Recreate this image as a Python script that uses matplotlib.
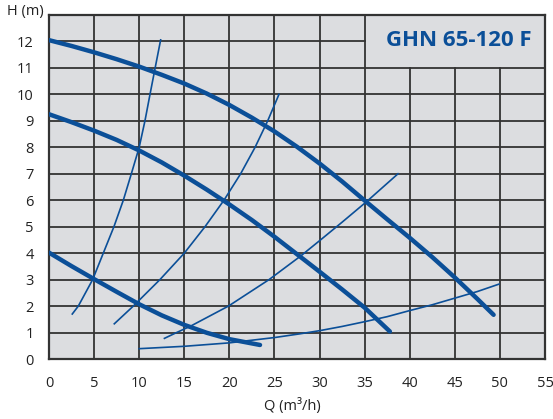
import matplotlib
matplotlib.use("Agg")
import matplotlib.pyplot as plt

# pump curves (thick), H in m vs Q in m3/h
q_top = [0, 2.5, 5, 7.5, 10, 12.5, 15, 17.5, 20, 22.5, 25, 27.5, 30, 32.5, 35, 37.5, 40, 42.5, 45, 47.5, 49.3]
h_top = [12.05, 11.83, 11.59, 11.33, 11.05, 10.74, 10.41, 10.03, 9.6, 9.12, 8.6, 8.02, 7.39, 6.71, 5.99, 5.28, 4.58, 3.85, 3.08, 2.27, 1.67]
q_mid = [0, 2.5, 5, 7.5, 10, 12.5, 15, 17.5, 20, 22.5, 25, 27.5, 30, 32.5, 35, 37.8]
h_mid = [9.25, 8.95, 8.63, 8.28, 7.88, 7.43, 6.93, 6.4, 5.84, 5.25, 4.62, 3.96, 3.3, 2.63, 1.94, 1.04]
q_low = [0, 2.5, 5, 7.5, 10, 12.5, 15, 17.5, 20, 23.4]
h_low = [4.02, 3.51, 3.02, 2.54, 2.07, 1.65, 1.29, 0.99, 0.75, 0.53]

# system curves (thin)
q_a = [2.58, 3.25, 4.84, 6.02, 7.2, 8.24, 9.13, 10.0, 10.64, 11.2, 11.77, 12.38]
h_a = [1.7, 2, 3, 4, 5, 6, 7, 8, 9, 10, 11, 12.06]
q_b = [7.24, 9.35, 12.3, 15, 17.3, 19.4, 21.25, 22.85, 24.25, 25.5]
h_b = [1.33, 2, 3, 4, 5, 6, 7, 8, 9, 10]
q_c = [12.8, 14.15, 15.8, 19.9, 24.4, 27.9, 30, 32.5, 35.26, 38.7]
h_c = [0.78, 1, 1.26, 2, 3, 3.89, 4.47, 5.17, 5.96, 7.0]
q_d = [10, 15, 20, 25, 27.8, 30, 32.5, 35, 37.5, 40, 42.5, 45, 47.5, 49.9]
h_d = [0.39, 0.48, 0.61, 0.81, 0.95, 1.07, 1.23, 1.41, 1.6, 1.83, 2.05, 2.3, 2.55, 2.83]

x_ticks = list(range(0, 56, 5))
y_ticks = list(range(0, 13))

blue = "#0b4f98"
bg = "#dcdde0"
gridc = "#333333"

plt.rcParams["font.family"] = ["Open Sans", "DejaVu Sans"]

fig = plt.figure(figsize=(5.53, 4.19), dpi=100)
ax = fig.add_axes([49 / 553, 60 / 419, 496 / 553, 344 / 419])
ax.set_facecolor(bg)
ax.set_xlim(0, 55)
ax.set_ylim(0, 13)

# grid, leaving the title box (35..55, 11..13) empty
for x in x_ticks[1:-1]:
    top = 11 if x > 35 else 13
    ax.plot([x, x], [0, top], color=gridc, lw=1.3, zorder=1)
for y in y_ticks[1:]:
    right = 35 if y == 12 else 55
    ax.plot([0, right], [y, y], color=gridc, lw=1.3, zorder=1)

for q, h in [(q_top, h_top), (q_mid, h_mid), (q_low, h_low)]:
    ax.plot(q, h, color=blue, lw=3.2, solid_capstyle="round",
            solid_joinstyle="round", zorder=3)
for q, h in [(q_a, h_a), (q_b, h_b), (q_c, h_c), (q_d, h_d)]:
    ax.plot(q, h, color=blue, lw=1.2, solid_joinstyle="round", zorder=2)

ax.set_xticks(x_ticks)
ax.set_yticks(y_ticks)
ax.tick_params(length=0, labelsize=10.5, colors="#222222")
ax.tick_params(axis="x", pad=12)
ax.tick_params(axis="y", pad=11)
for s in ax.spines.values():
    s.set_color("#333333")
    s.set_linewidth(1.6)

fig.text(25 / 553, 1 - 12 / 419, "H (m)", fontsize=10.5, color="#222222",
         ha="center", va="center")
fig.text(292 / 553, 1 - 406 / 419, "Q (m³/h)", fontsize=10.5, color="#222222",
         ha="center", va="center")
ax.text(45.4, 12.03, "GHN 65-120 F", fontsize=16, fontweight="bold", color=blue,
        ha="center", va="center")

fig.savefig("out.png", dpi=100)
